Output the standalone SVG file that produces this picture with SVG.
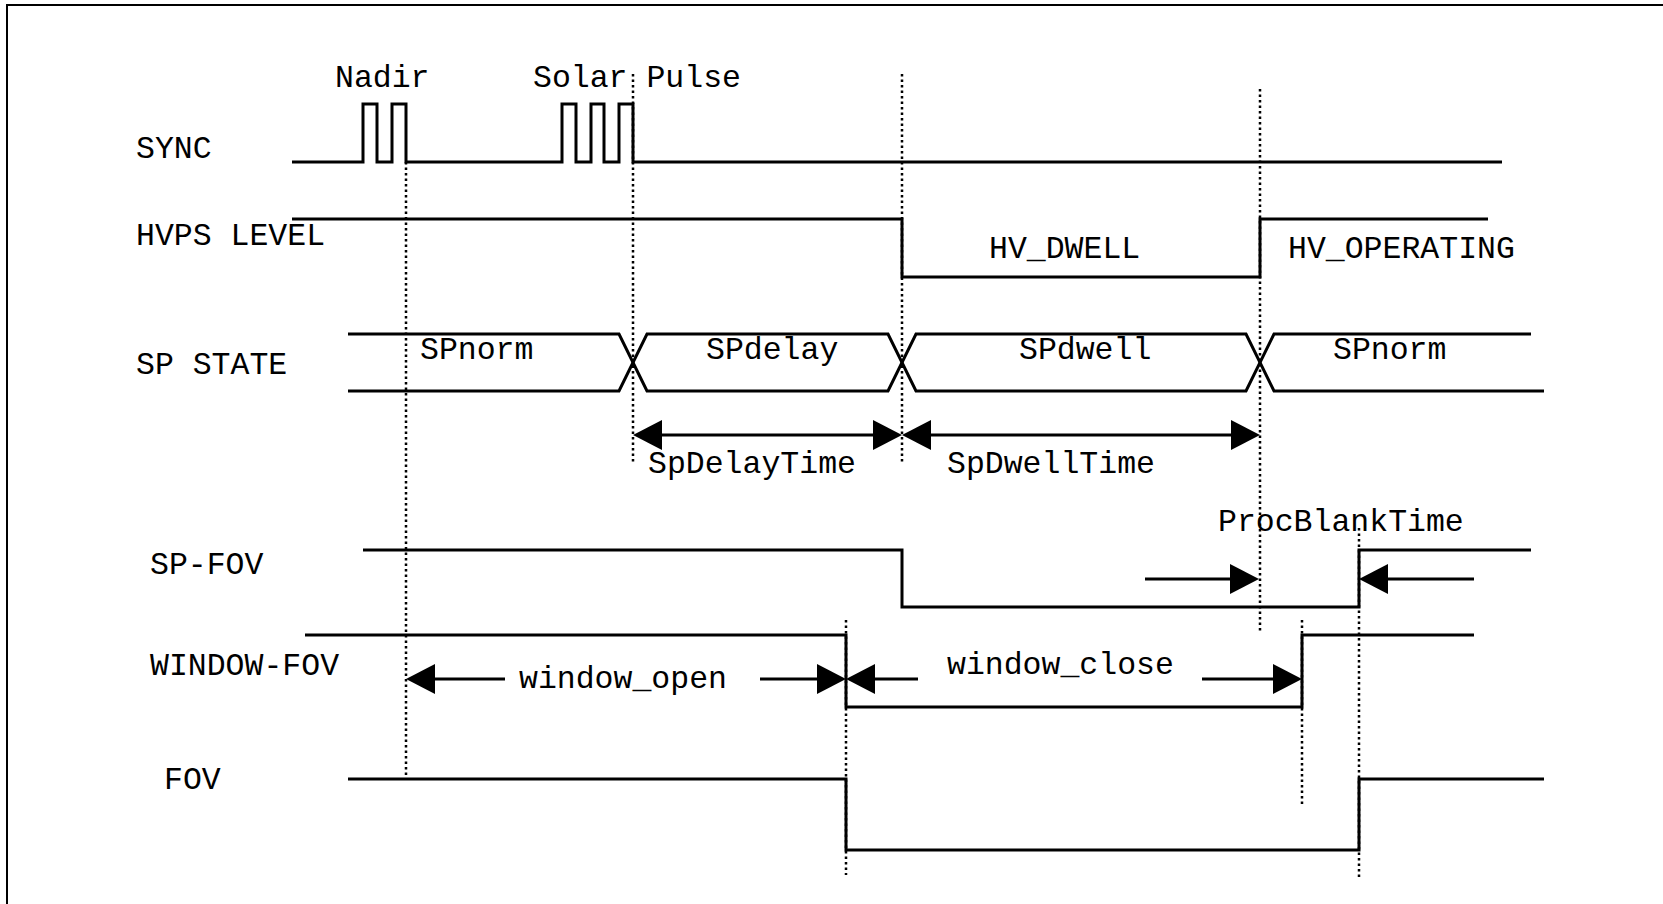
<svg xmlns="http://www.w3.org/2000/svg" width="1663" height="904" viewBox="0 0 1663 904">
  <style>
    text { font-family: "Liberation Mono", "Courier New", monospace; font-size: 31.5px; fill: #000; }
    .wave { fill: none; stroke: #000; stroke-width: 3; stroke-linejoin: miter; }
    .guide { fill: none; stroke: #000; stroke-width: 2.5; stroke-dasharray: 2.5 3; }
    .dim { fill: none; stroke: #000; stroke-width: 3; }
    .frame { fill: none; stroke: #000; stroke-width: 2; }
  </style>
  <defs>
    <marker id="tip" viewBox="0 0 29 30" refX="19" refY="15" markerWidth="29" markerHeight="30" markerUnits="userSpaceOnUse" orient="auto-start-reverse">
      <path d="M0,0 L29,15 L0,30 Z" fill="#000"/>
    </marker>
  </defs>

  <rect width="1663" height="904" fill="#fff"/>
  <path class="frame" d="M7,904 V5 H1663"/>

  <!-- SYNC: nadir and solar pulse trains -->
  <g id="sync">
    <text x="136" y="158">SYNC</text>
    <text x="335" y="87">Nadir</text>
    <text x="533" y="87">Solar Pulse</text>
    <path class="wave" d="M292,162 H363 V104 H377 V162 H392 V104 H406 V162 H562 V104 H576 V162 H591 V104 H604 V162 H619 V104 H633 V162 H1502"/>
  </g>

  <!-- HVPS LEVEL -->
  <g id="hvps-level">
    <text x="136" y="245">HVPS LEVEL</text>
    <path class="wave" d="M292,219 H902 V277 H1260 V219 H1488"/>
    <text x="989" y="258">HV_DWELL</text>
    <text x="1288" y="258">HV_OPERATING</text>
  </g>

  <!-- SP STATE bus -->
  <g id="sp-state">
    <text x="136" y="374">SP STATE</text>
    <path class="wave" d="M348,334 H619 L647,391 H888 L916,334 H1246 L1274,391 H1544"/>
    <path class="wave" d="M348,391 H619 L647,334 H888 L916,391 H1246 L1274,334 H1531"/>
    <text x="420" y="359">SPnorm</text>
    <text x="706" y="359">SPdelay</text>
    <text x="1019" y="359">SPdwell</text>
    <text x="1333" y="359">SPnorm</text>
  </g>

  <!-- SP-FOV -->
  <g id="sp-fov">
    <text x="150" y="574">SP-FOV</text>
    <path class="wave" d="M363,550 H902 V607 H1359 V550 H1531"/>
  </g>

  <!-- WINDOW-FOV -->
  <g id="window-fov">
    <text x="150" y="675">WINDOW-FOV</text>
    <path class="wave" d="M305,635 H846 V707 H1302 V635 H1474"/>
  </g>

  <!-- FOV -->
  <g id="fov">
    <text x="164" y="789">FOV</text>
    <path class="wave" d="M348,779 H846 V850 H1359 V779 H1544"/>
  </g>

  <!-- timing guides and dimension arrows -->
  <g id="connectors">
    <line class="guide" x1="406" y1="162" x2="406" y2="778"/>
    <line class="guide" x1="633" y1="74" x2="633" y2="463"/>
    <line class="guide" x1="902" y1="74" x2="902" y2="463"/>
    <line class="guide" x1="1260" y1="89" x2="1260" y2="631"/>
    <line class="guide" x1="1359" y1="528" x2="1359" y2="878"/>
    <line class="guide" x1="846" y1="620" x2="846" y2="875"/>
    <line class="guide" x1="1302" y1="620" x2="1302" y2="805"/>

    <line class="dim" x1="643" y1="435" x2="892" y2="435" marker-start="url(#tip)" marker-end="url(#tip)"/>
    <line class="dim" x1="912" y1="435" x2="1250" y2="435" marker-start="url(#tip)" marker-end="url(#tip)"/>
    <text x="648" y="473">SpDelayTime</text>
    <text x="947" y="473">SpDwellTime</text>

    <line class="dim" x1="1145" y1="579" x2="1249" y2="579" marker-end="url(#tip)"/>
    <line class="dim" x1="1474" y1="579" x2="1369" y2="579" marker-end="url(#tip)"/>
    <text x="1218" y="531">ProcBlankTime</text>

    <line class="dim" x1="505" y1="679" x2="416" y2="679" marker-end="url(#tip)"/>
    <line class="dim" x1="760" y1="679" x2="836" y2="679" marker-end="url(#tip)"/>
    <text x="519" y="688">window_open</text>

    <line class="dim" x1="918" y1="679" x2="856" y2="679" marker-end="url(#tip)"/>
    <line class="dim" x1="1202" y1="679" x2="1292" y2="679" marker-end="url(#tip)"/>
    <text x="947" y="674">window_close</text>
  </g>
</svg>
